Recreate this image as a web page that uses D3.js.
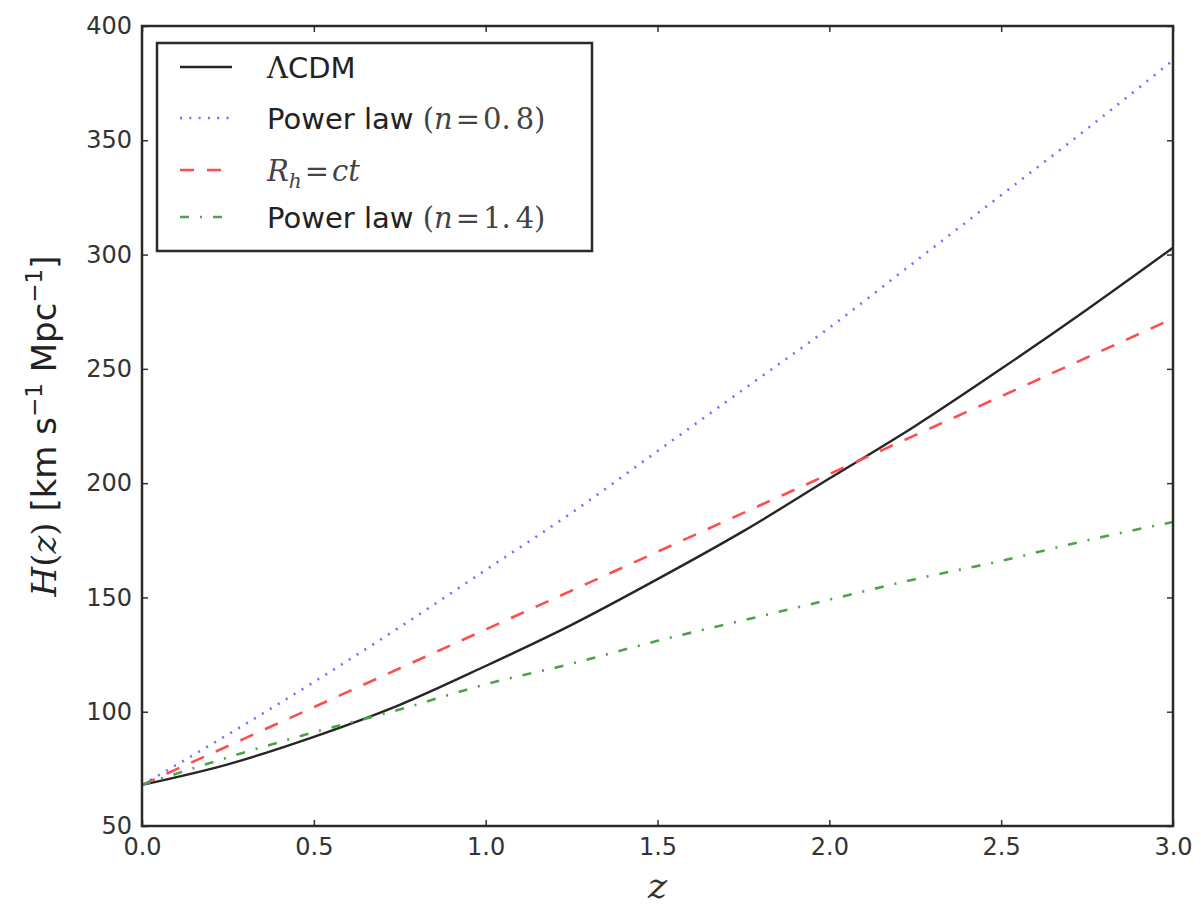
<!DOCTYPE html>
<html>
<head>
<meta charset="utf-8">
<script src="https://cdn.jsdelivr.net/npm/d3@7"></script>
<style>
  body { margin: 0; background: #fff; }
  svg { display: block; }
  .tick text { font-family: "DejaVu Sans", sans-serif; font-size: 24px; fill: #333; }
</style>
</head>
<body>
<div id="chart"></div>
<script>
// redshift samples
const zValues = [0, 0.25, 0.5, 0.75, 1.0, 1.25, 1.5, 1.75, 2.0, 2.25, 2.5, 2.75, 3.0];

// H(z) for each model, km/s/Mpc
const lcdm    = [68, 77, 89, 103, 120, 138, 158, 179, 202, 225, 250, 276, 303];
const power08 = [68, 90, 113, 137, 162, 187, 214, 241, 268, 297, 326, 355, 385];
const rhct    = [68, 85, 102, 119, 136, 153, 170, 187, 204, 221, 238, 255, 272];
const power14 = [68, 80, 91, 101, 112, 121, 131, 140, 149, 158, 166, 175, 183];

const xTicks = [0, 0.5, 1.0, 1.5, 2.0, 2.5, 3.0];
const yTicks = [50, 100, 150, 200, 250, 300, 350, 400];

const W = 1201, H = 911;
const margin = { top: 26, right: 28, bottom: 85, left: 142 };
const width = W - margin.left - margin.right;
const height = H - margin.top - margin.bottom;

const svg = d3.select("#chart").append("svg")
  .attr("width", W).attr("height", H);

const g = svg.append("g")
  .attr("transform", "translate(" + margin.left + "," + margin.top + ")");

const x = d3.scaleLinear().domain([0, 3]).range([0, width]);
const y = d3.scaleLinear().domain([50, 400]).range([height, 0]);

g.append("defs").append("clipPath").attr("id", "clip")
  .append("rect").attr("width", width).attr("height", height);

const series = [
  { name: "lcdm", values: lcdm, color: "#262626", width: 2.4, dash: null },
  { name: "p08", values: power08, color: "#6e6eff", width: 2.6, dash: "2,7.3" },
  { name: "rhct", values: rhct, color: "#ff4d4d", width: 2.6, dash: "14,13" },
  { name: "p14", values: power14, color: "#4ba34b", width: 2.6, dash: "9,11,2,11" }
];

const line = d3.line()
  .x(function (d) { return x(d[0]); })
  .y(function (d) { return y(d[1]); })
  .curve(d3.curveMonotoneX);

const lines = g.append("g").attr("clip-path", "url(#clip)");
// black first, the others on top
[series[0], series[2], series[3], series[1]].forEach(function (s) {
  lines.append("path")
    .datum(zValues.map(function (z, i) { return [z, s.values[i]]; }))
    .attr("fill", "none")
    .attr("stroke", s.color)
    .attr("stroke-width", s.width)
    .attr("stroke-dasharray", s.dash)
    .attr("d", line);
});

// axes: ticks pointing inward on all four sides
const fmtX = d3.format(".1f");
g.append("g").attr("transform", "translate(0," + height + ")")
  .call(d3.axisBottom(x).tickValues(xTicks).tickFormat(fmtX).tickSizeInner(-6).tickSizeOuter(0).tickPadding(12));
g.append("g")
  .call(d3.axisTop(x).tickValues(xTicks).tickFormat("").tickSizeInner(-6).tickSizeOuter(0));
g.append("g")
  .call(d3.axisLeft(y).tickValues(yTicks).tickSizeInner(-6).tickSizeOuter(0).tickPadding(10));
g.append("g").attr("transform", "translate(" + width + ",0)")
  .call(d3.axisRight(y).tickValues(yTicks).tickFormat("").tickSizeInner(-6).tickSizeOuter(0));

g.selectAll(".domain").remove();
g.selectAll(".tick line").attr("stroke", "#333").attr("stroke-width", 1.5);

g.append("rect")
  .attr("width", width).attr("height", height)
  .attr("fill", "none").attr("stroke", "#2a2a2a").attr("stroke-width", 2.5);

// axis labels
svg.append("text")
  .attr("x", margin.left + width / 2).attr("y", 898)
  .attr("text-anchor", "middle")
  .style("font-family", "'DejaVu Serif', serif").style("font-style", "italic")
  .style("font-size", "36px").style("fill", "#333")
  .text("z");

const yl = svg.append("text")
  .attr("transform", "translate(56," + (margin.top + height / 2) + ") rotate(-90)")
  .attr("text-anchor", "middle")
  .style("font-family", "'DejaVu Sans', sans-serif").style("font-size", "34px").style("fill", "#222");
yl.append("tspan").style("font-family", "'DejaVu Serif', serif").style("font-style", "italic").text("H");
yl.append("tspan").style("font-family", "'DejaVu Serif', serif").text("(");
yl.append("tspan").style("font-family", "'DejaVu Serif', serif").style("font-style", "italic").text("z");
yl.append("tspan").style("font-family", "'DejaVu Serif', serif").text(")");
yl.append("tspan").text(" [km s");
yl.append("tspan").attr("dy", -14).style("font-size", "23px").text("\u22121");
yl.append("tspan").attr("dy", 14).text(" Mpc");
yl.append("tspan").attr("dy", -14).style("font-size", "23px").text("\u22121");
yl.append("tspan").attr("dy", 14).text("]");

// legend
const lg = svg.append("g").attr("transform", "translate(157,43)");
lg.append("rect").attr("width", 435).attr("height", 208)
  .attr("fill", "#fff").attr("stroke", "#2a2a2a").attr("stroke-width", 2.5);

const rowY = [24, 75, 127, 174];
series.forEach(function (s, i) {
  lg.append("line")
    .attr("x1", 23).attr("x2", 75)
    .attr("y1", rowY[i]).attr("y2", rowY[i])
    .attr("stroke", s.color).attr("stroke-width", s.width)
    .attr("stroke-dasharray", s.dash);
});

const serif = "'DejaVu Serif', serif";
function legendText(i) {
  return lg.append("text")
    .attr("x", 110).attr("y", rowY[i] + 11)
    .style("font-family", "'DejaVu Sans', sans-serif")
    .style("font-size", "29px").style("fill", "#222");
}
let t = legendText(0);
t.append("tspan").style("font-family", serif).text("\u039B");
t.append("tspan").text("CDM");

[1, 3].forEach(function (i) {
  const n = i === 1 ? ["0.", "8"] : ["1.", "4"];
  const tt = legendText(i);
  tt.append("tspan").text("Power law ");
  tt.append("tspan").style("font-family", serif).style("fill", "#444").text("(");
  tt.append("tspan").style("font-family", serif).style("font-style", "italic").style("fill", "#444").text("n");
  tt.append("tspan").attr("dx", 3).style("font-family", serif).style("fill", "#444").text("=");
  tt.append("tspan").attr("dx", 3).style("font-family", serif).style("fill", "#444").text(n[0]);
  tt.append("tspan").attr("dx", 5).style("font-family", serif).style("fill", "#444").text(n[1] + ")");
});

t = legendText(2);
t.style("font-family", serif).style("fill", "#444");
t.append("tspan").style("font-style", "italic").text("R");
t.append("tspan").attr("dy", 7).style("font-style", "italic").style("font-size", "20px").text("h");
t.append("tspan").attr("dy", -7).attr("dx", 3).text("=");
t.append("tspan").attr("dx", 3).style("font-style", "italic").text("ct");
</script>
</body>
</html>
